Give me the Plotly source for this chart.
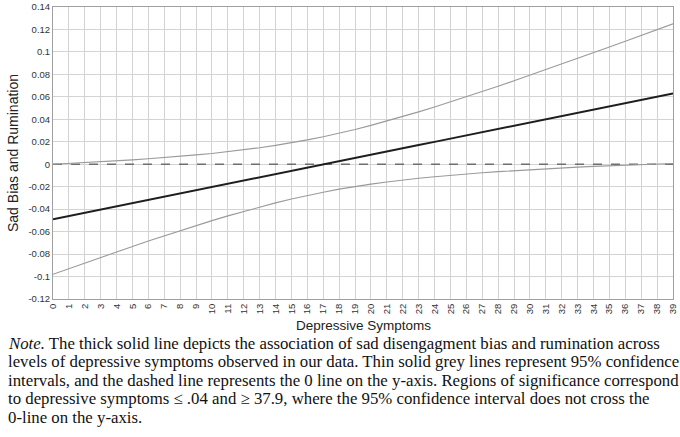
import plotly.graph_objects as go

# Depressive symptom scores (x axis)
symptoms = list(range(40))

# Estimated association (thick line)
estimate = [-0.0490, -0.0461, -0.0433, -0.0404, -0.0375, -0.0346, -0.0318, -0.0289,
            -0.0260, -0.0232, -0.0203, -0.0174, -0.0145, -0.0117, -0.0088, -0.0059,
            -0.0031, -0.0002, 0.0027, 0.0056, 0.0084, 0.0113, 0.0142, 0.0171,
            0.0199, 0.0228, 0.0257, 0.0285, 0.0314, 0.0343, 0.0372, 0.0400,
            0.0429, 0.0458, 0.0487, 0.0515, 0.0544, 0.0573, 0.0601, 0.0630]

# 95% confidence bounds (thin grey lines)
upper_ci = [0.0000, 0.0007, 0.0014, 0.0022, 0.0030, 0.0039, 0.0049, 0.0059,
            0.0070, 0.0083, 0.0096, 0.0111, 0.0128, 0.0147, 0.0168, 0.0191,
            0.0217, 0.0245, 0.0276, 0.0310, 0.0346, 0.0384, 0.0424, 0.0466,
            0.0509, 0.0554, 0.0600, 0.0646, 0.0694, 0.0743, 0.0792, 0.0841,
            0.0891, 0.0942, 0.0992, 0.1043, 0.1095, 0.1146, 0.1198, 0.1250]
lower_ci = [-0.0980, -0.0929, -0.0879, -0.0830, -0.0780, -0.0732, -0.0684, -0.0637,
            -0.0591, -0.0546, -0.0502, -0.0460, -0.0419, -0.0380, -0.0344, -0.0310,
            -0.0278, -0.0249, -0.0222, -0.0198, -0.0177, -0.0158, -0.0140, -0.0125,
            -0.0111, -0.0098, -0.0086, -0.0076, -0.0066, -0.0057, -0.0048, -0.0041,
            -0.0033, -0.0026, -0.0019, -0.0013, -0.0007, -0.0001, 0.0003, 0.0006]

zero_line = [0] * len(symptoms)

y_ticks = [0.14, 0.12, 0.1, 0.08, 0.06, 0.04, 0.02, 0, -0.02, -0.04, -0.06, -0.08, -0.1, -0.12]
y_labels = ["0.14", "0.12", "0.1", "0.08", "0.06", "0.04", "0.02", "0",
            "-0.02", "-0.04", "-0.06", "-0.08", "-0.1", "-0.12"]

note_lines = [
    "<i>Note.</i> The thick solid line depicts the association of sad disengagment bias and rumination across",
    "levels of depressive symptoms observed in our data. Thin solid grey lines represent 95% confidence",
    "intervals, and the dashed line represents the 0 line on the y-axis. Regions of significance correspond",
    "to depressive symptoms \u2264 .04 and \u2265 37.9, where the 95% confidence interval does not cross the",
    "0-line on the y-axis.",
]

fig = go.Figure()
fig.add_trace(go.Scatter(x=symptoms, y=zero_line, mode="lines",
                         line=dict(color="#6e6e6e", width=1.6, dash="dash")))
fig.add_trace(go.Scatter(x=symptoms, y=upper_ci, mode="lines",
                         line=dict(color="#9a9a9a", width=1.1)))
fig.add_trace(go.Scatter(x=symptoms, y=lower_ci, mode="lines",
                         line=dict(color="#9a9a9a", width=1.1)))
fig.add_trace(go.Scatter(x=symptoms, y=estimate, mode="lines",
                         line=dict(color="#1e1e1e", width=2)))

# plot area: 620 x 292 px, starting at (53, 7)
PW, PH = 620, 292

def px_x(p):
    return (p - 53) / PW

def px_y(p):
    return (299 - p) / PH

for i, line in enumerate(note_lines):
    fig.add_annotation(text=line, xref="paper", yref="paper",
                       x=px_x(6), y=px_y(343 + i * 18.5),
                       xanchor="left", yanchor="middle", showarrow=False,
                       font=dict(family="Liberation Serif", size=16.8, color="#111"))

# axis titles
fig.add_annotation(text="Depressive Symptoms", xref="paper", yref="paper",
                   x=px_x(363), y=px_y(325), xanchor="center", yanchor="middle",
                   showarrow=False, font=dict(family="Liberation Sans", size=13.5, color="#222"))
fig.add_annotation(text="Sad Bias and Rumination", xref="paper", yref="paper",
                   x=px_x(13), y=px_y(153), xanchor="center", yanchor="middle",
                   textangle=-90, showarrow=False,
                   font=dict(family="Liberation Sans", size=14, color="#222"))

fig.update_layout(
    width=680, height=437,
    margin=dict(l=53, r=7, t=7, b=138),
    paper_bgcolor="white", plot_bgcolor="white",
    showlegend=False,
    font=dict(family="Liberation Sans", color="#333"),
)
fig.update_xaxes(
    range=[0, 39.0001], tickmode="array", tickvals=symptoms,
    ticktext=[str(s) for s in symptoms], tickangle=-90,
    tickfont=dict(size=9.5, color="#333"), automargin=False,
    showgrid=True, gridcolor="#d3d3d3", gridwidth=1,
    showline=True, linecolor="#a0a0a0", mirror=True, zeroline=False,
    ticks="", ticklen=0,
)
fig.update_yaxes(
    range=[-0.12, 0.14], tickmode="array", tickvals=y_ticks, ticktext=y_labels,
    tickfont=dict(size=9.5, color="#333"), automargin=False,
    showgrid=True, gridcolor="#d3d3d3", gridwidth=1,
    showline=True, linecolor="#a0a0a0", mirror=True, zeroline=False,
    ticks="", ticklen=0,
)

# drop the default page margin so the figure sits at the window corner
fig.write_html("out.html", config={"displayModeBar": False},
               post_script="document.body.style.margin='0';")
